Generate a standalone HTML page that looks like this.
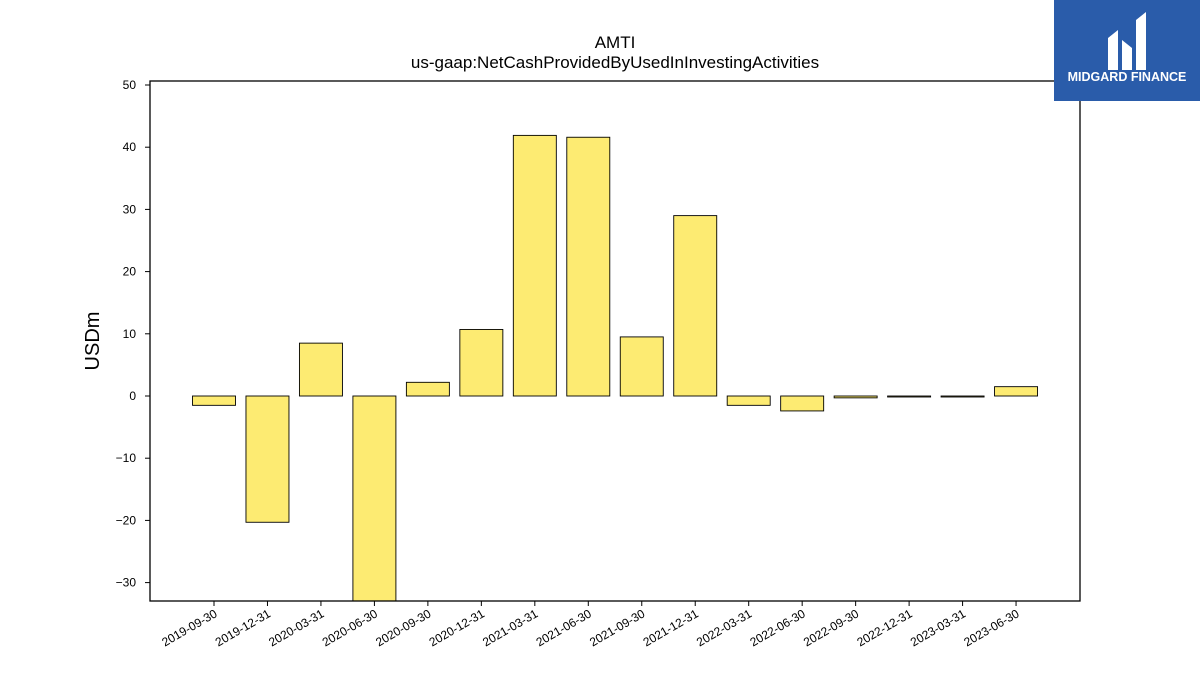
<!DOCTYPE html>
<html><head><meta charset="utf-8"><style>
body{margin:0;background:#fff;font-family:"Liberation Sans","DejaVu Sans",sans-serif}
</style></head><body>
<svg width="1200" height="675" xmlns="http://www.w3.org/2000/svg">
<defs><clipPath id="pc"><rect x="150" y="81" width="930" height="520"/></clipPath></defs>
<text x="615" y="48" text-anchor="middle" font-size="17">AMTI</text>
<text x="615" y="68" text-anchor="middle" font-size="17">us-gaap:NetCashProvidedByUsedInInvestingActivities</text>
<text transform="translate(99,341) rotate(-90)" text-anchor="middle" font-size="20">USDm</text>
<g id="bars" clip-path="url(#pc)"></g>
<g id="yt"></g><g id="xt"></g>
<rect x="150" y="81" width="930" height="520" fill="none" stroke="#000" stroke-width="1.3"/>
<g>
<rect x="1054" y="0" width="146" height="101" fill="#2a5caa"/>
<path d="M1108 70 V38 L1118 30 V70 Z M1122 70 V40 L1132 48 V70 Z M1136 70 V20 L1146 12 V70 Z" fill="#fff"/>
<text x="1127" y="81" text-anchor="middle" font-size="12.5" font-weight="bold" fill="#fff">MIDGARD FINANCE</text>
</g>
</svg>
<script>
const categories=["2019-09-30","2019-12-31","2020-03-31","2020-06-30","2020-09-30","2020-12-31","2021-03-31","2021-06-30","2021-09-30","2021-12-31","2022-03-31","2022-06-30","2022-09-30","2022-12-31","2023-03-31","2023-06-30"];
const values=[-1.5,-20.3,8.5,-35,2.2,10.7,41.9,41.6,9.5,29.0,-1.5,-2.4,-0.3,-0.1,-0.1,1.5];
const yTicks=[-30,-20,-10,0,10,20,30,40,50];
const ns="http://www.w3.org/2000/svg";
const y=v=>396-v*6.22;
const x=i=>214+i*53.47;
const bars=document.getElementById('bars'),yt=document.getElementById('yt'),xt=document.getElementById('xt');
function mk(t,a,p){const e=document.createElementNS(ns,t);for(const k in a)e.setAttribute(k,a[k]);p.appendChild(e);return e;}
values.forEach((v,i)=>{
 const r=mk('rect',{x:x(i)-21.5,y:Math.min(y(v),y(0)),width:43,height:Math.max(Math.abs(y(v)-y(0)),1),fill:'#fdeb72',stroke:'#000','stroke-width':0.9},bars);
 
 
 mk('line',{x1:x(i),x2:x(i),y1:601,y2:606,stroke:'#000'},xt);
 const t=mk('text',{transform:`translate(${x(i)+4},${616}) rotate(-30)`,'text-anchor':'end','font-size':12},xt);
 t.textContent=categories[i];
 
 
});
yTicks.forEach(v=>{
 mk('line',{x1:145,x2:150,y1:y(v),y2:y(v),stroke:'#000'},yt);
 const t=mk('text',{x:136,y:y(v)+4,'text-anchor':'end','font-size':12},yt);
 t.textContent=v<0?'\u2212'+(-v):v;
 
 
});
</script>
</body></html>
